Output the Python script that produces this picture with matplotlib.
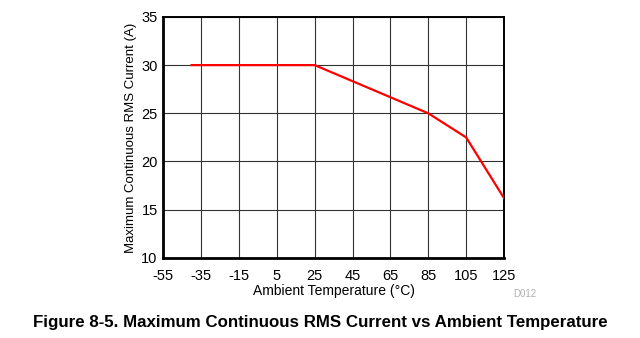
import matplotlib.pyplot as plt

plt.rcParams['font.family'] = ['Liberation Sans', 'DejaVu Sans']

# derating curve
temp = [-40, 25, 85, 105, 125]
current = [30, 30, 25, 22.5, 16.2]

x_ticks = [-55, -35, -15, 5, 25, 45, 65, 85, 105, 125]
y_ticks = [10, 15, 20, 25, 30, 35]

fig = plt.figure(figsize=(6.4, 3.38), dpi=100)
ax = fig.add_axes([0.255, 0.237, 0.5325, 0.713])

ax.plot(temp, current, color='#ff0000', lw=1.6, zorder=3)

ax.set_xlim(-55, 125)
ax.set_ylim(10, 35)
ax.set_xticks(x_ticks)
ax.set_yticks(y_ticks)
ax.set_xticklabels([str(t) for t in x_ticks])
ax.grid(True, color='#333333', lw=0.8)
ax.tick_params(length=0, labelsize=10.5)
ax.tick_params(axis='x', pad=8)
ax.tick_params(axis='y', pad=4)
for s in ax.spines.values():
    s.set_linewidth(1.4)
ax.spines['left'].set_linewidth(2)
ax.spines['bottom'].set_linewidth(2)

ax.set_xlabel('Ambient Temperature (°C)', fontsize=10, labelpad=1)
ax.set_ylabel('Maximum Continuous RMS Current (A)', fontsize=9.5, labelpad=3)

fig.text(0.802, 0.131, 'D012', fontsize=7, color='#b0b0b0', ha='left', va='center')
fig.text(0.5, 0.045, 'Figure 8-5. Maximum Continuous RMS Current vs Ambient Temperature',
         fontsize=12.2, fontweight='bold', ha='center', va='center')

fig.savefig('out.png', dpi=100)
